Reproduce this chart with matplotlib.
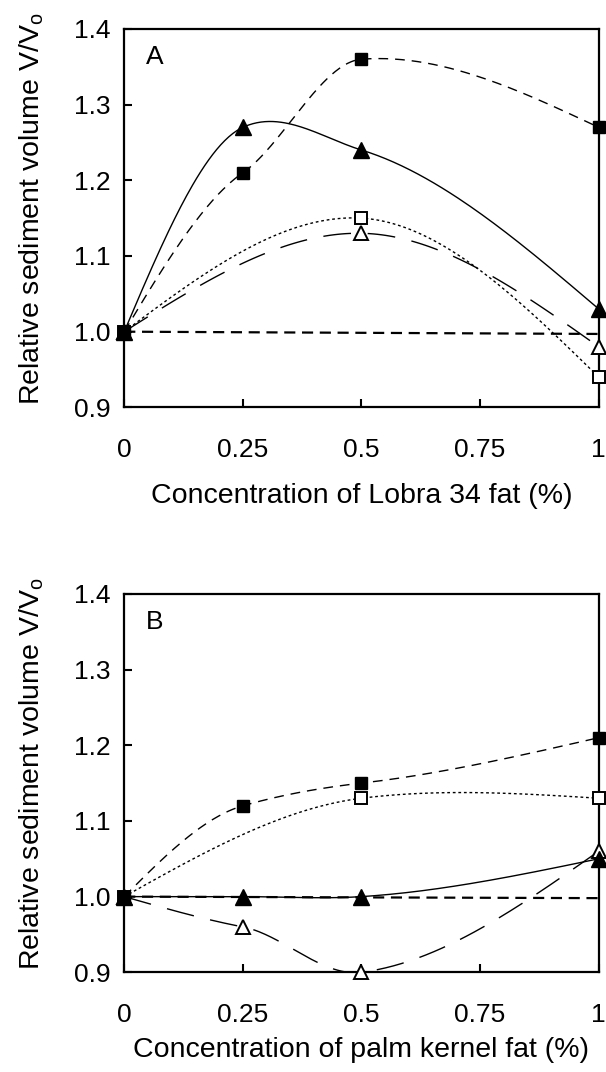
import numpy as np
import matplotlib
matplotlib.use("Agg")
import matplotlib.pyplot as plt

plt.rcParams['font.family'] = ['Liberation Sans', 'DejaVu Sans']
plt.rcParams['mathtext.fontset'] = 'custom'
plt.rcParams['mathtext.rm'] = 'Liberation Sans'

conc = [0, 0.25, 0.5, 1]
conc3 = [0, 0.5, 1]

# panel A: Lobra 34 fat
a_filled_sq = [1.00, 1.21, 1.36, 1.27]
a_filled_tri = [1.00, 1.27, 1.24, 1.03]
a_open_sq = [1.00, 1.15, 0.94]
a_open_tri = [1.00, 1.13, 0.98]
a_ref = [1.00, 0.997]

# panel B: palm kernel fat
b_filled_sq = [1.00, 1.12, 1.15, 1.21]
b_filled_tri = [1.00, 1.00, 1.00, 1.05]
b_open_sq = [1.00, 1.13, 1.13]
b_open_tri = [1.00, 0.96, 0.90, 1.06]
b_ref = [1.00, 0.998]

xticks = [0, 0.25, 0.5, 0.75, 1]
xtick_labels = ['0', '0.25', '0.5', '0.75', '1']
yticks = [0.9, 1.0, 1.1, 1.2, 1.3, 1.4]


def smooth(x, y, tension=0.6, n=60):
    # hermite curve through the points, softened tangents, free ends
    x = np.asarray(x, float)
    y = np.asarray(y, float)
    k = len(x)
    sec = np.diff(y) / np.diff(x)
    m = np.zeros(k)
    for i in range(1, k - 1):
        m[i] = tension * (y[i + 1] - y[i - 1]) / (x[i + 1] - x[i - 1])
    m[0] = (3 * sec[0] - m[1]) / 2
    m[-1] = (3 * sec[-1] - m[-2]) / 2
    xs_all, ys_all = [], []
    for i in range(k - 1):
        h = x[i + 1] - x[i]
        t = np.linspace(0, 1, n)
        h00 = 2 * t ** 3 - 3 * t ** 2 + 1
        h10 = t ** 3 - 2 * t ** 2 + t
        h01 = -2 * t ** 3 + 3 * t ** 2
        h11 = t ** 3 - t ** 2
        xs_all.append(x[i] + t * h)
        ys_all.append(h00 * y[i] + h10 * h * m[i] + h01 * y[i + 1] + h11 * h * m[i + 1])
    return np.concatenate(xs_all), np.concatenate(ys_all)


def xs_for(vals):
    return conc if len(vals) == 4 else conc3


def panel(ax, fsq, ftri, osq, otri, ref, letter, xlabel, xlab_y):
    lw = 1.0
    xs, ys = smooth(xs_for(otri), otri)
    ax.plot(xs, ys, color='black', lw=lw, dashes=(20, 12))
    xs, ys = smooth(xs_for(osq), osq)
    ax.plot(xs, ys, color='black', lw=lw, dashes=(2, 2))
    xs, ys = smooth(xs_for(ftri), ftri)
    ax.plot(xs, ys, color='black', lw=lw)
    xs, ys = smooth(xs_for(fsq), fsq)
    ax.plot(xs, ys, color='black', lw=lw, dashes=(7, 5))
    ax.plot([0, 1], ref, color='black', lw=1.6, dashes=(5, 3))

    ax.plot(xs_for(otri), otri, ls='none', marker='^', ms=10.5, mfc='white', mec='black', mew=1.4, clip_on=False, zorder=5)
    ax.plot(xs_for(osq), osq, ls='none', marker='s', ms=8, mfc='white', mec='black', mew=1.4, clip_on=False, zorder=5)
    ax.plot(xs_for(ftri), ftri, ls='none', marker='^', ms=11.5, color='black', clip_on=False, zorder=6)
    ax.plot(xs_for(fsq), fsq, ls='none', marker='s', ms=9, color='black', clip_on=False, zorder=6)

    ax.set_xlim(0, 1)
    ax.set_ylim(0.9, 1.4)
    ax.set_xticks(xticks)
    ax.set_xticklabels(xtick_labels)
    ax.set_yticks(yticks)
    ax.set_yticklabels(['%.1f' % v for v in yticks])
    ax.tick_params(direction='in', length=6, width=1.5, labelsize=19, pad=10)
    ax.tick_params(axis='x', pad=22)
    for s in ax.spines.values():
        s.set_linewidth(1.6)
    ax.text(0.045, 0.925, letter, transform=ax.transAxes, fontsize=19, va='center')
    ax.set_xlabel(xlabel, fontsize=20.5)
    ax.xaxis.set_label_coords(0.5, xlab_y)
    ax.set_ylabel('Relative sediment volume V/V$_{\\mathrm{o}}$', fontsize=20.5)
    ax.yaxis.set_label_coords(-0.165, 0.525)


fig = plt.figure(figsize=(6.06, 10.72), dpi=100)
ax1 = fig.add_axes([0.205, 0.620, 0.783, 0.353])
ax2 = fig.add_axes([0.205, 0.093, 0.783, 0.353])

panel(ax1, a_filled_sq, a_filled_tri, a_open_sq, a_open_tri, a_ref, 'A',
      'Concentration of Lobra 34 fat (%)', -0.20)
panel(ax2, b_filled_sq, b_filled_tri, b_open_sq, b_open_tri, b_ref, 'B',
      'Concentration of palm kernel fat (%)', -0.17)

fig.savefig('out.png', dpi=100)
